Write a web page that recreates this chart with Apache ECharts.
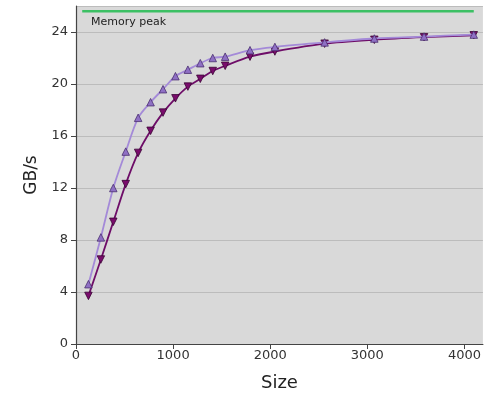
<!DOCTYPE html>
<html><head><meta charset="utf-8">
<script src="https://cdn.jsdelivr.net/npm/echarts@6/dist/echarts.min.js"></script>
<style>html,body{margin:0;padding:0;background:#fff}#c{width:484px;height:397px}</style>
</head><body><div id="c"></div>
<script>
const sizes = [128,256,384,512,640,768,896,1024,1152,1280,1408,1536,1792,2048,2560,3072,3584,4096];
const upper = [4.6,8.2,12.0,14.8,17.4,18.6,19.6,20.6,21.1,21.6,22.0,22.1,22.6,22.85,23.2,23.5,23.65,23.8];
const lower = [3.7,6.5,9.4,12.3,14.7,16.4,17.8,18.9,19.8,20.4,21.0,21.4,22.1,22.5,23.1,23.4,23.6,23.75];
const peakX = [64,4096];
const peakY = 25.6;
const peakLabel = "Memory peak";
const xTicks = [0,1000,2000,3000,4000];
const yTicks = [0,4,8,12,16,20,24];

const font = "DejaVu Sans";
const chart = echarts.init(document.getElementById('c'));
chart.setOption({
  animation:false,
  textStyle:{fontFamily:font},
  grid:{left:76,right:0,top:6,bottom:50,show:true,backgroundColor:'#d9d9d9',borderWidth:0},
  xAxis:{type:'value',min:0,max:4190,interval:1000,name:'Size',nameLocation:'middle',nameGap:30,
    nameTextStyle:{fontSize:18,color:'#222',fontFamily:font},
    axisLine:{show:true,onZero:false,lineStyle:{color:'#444',width:1.2}},
    axisTick:{show:true,length:5,lineStyle:{color:'#444'}},
    axisLabel:{fontSize:13,color:'#333',margin:5,showMaxLabel:false,fontFamily:font,
      formatter:v=>xTicks.includes(v)?String(v):''},
    splitLine:{show:false}},
  yAxis:{type:'value',min:0,max:26,interval:4,name:'GB/s',nameLocation:'middle',nameGap:35,
    nameTextStyle:{fontSize:17,color:'#222',fontFamily:font},
    axisLine:{show:true,onZero:false,lineStyle:{color:'#444',width:1.2}},
    axisTick:{show:true,length:5,lineStyle:{color:'#444'}},
    axisLabel:{fontSize:13,color:'#333',margin:8,showMaxLabel:false,fontFamily:font,
      formatter:v=>yTicks.includes(v)?String(v):''},
    splitLine:{show:true,lineStyle:{color:'#bcbcbc',width:1}}},
  graphic:[{type:'text',left:91,top:17,style:{text:peakLabel,fontSize:11,fill:'#222',fontFamily:font}}],
  series:[
    {type:'line',data:peakX.map(x=>[x,peakY]),symbol:'none',lineStyle:{color:'#3cc064',width:2.5},silent:true},
    {type:'line',data:sizes.map((s,i)=>[s,upper[i]]),smooth:0.3,symbol:'triangle',symbolSize:7.5,
      lineStyle:{color:'#a48ad8',width:1.8},itemStyle:{color:'#8f70c4',borderColor:'#4a2f70',borderWidth:0.8},z:3},
    {type:'line',data:sizes.map((s,i)=>[s,lower[i]]),smooth:0.3,symbol:'triangle',symbolRotate:180,symbolSize:7.5,
      lineStyle:{color:'#6e0d68',width:1.8},itemStyle:{color:'#7a0c6c',borderColor:'#3a0535',borderWidth:0.8},z:2}
  ]
});
</script></body></html>
